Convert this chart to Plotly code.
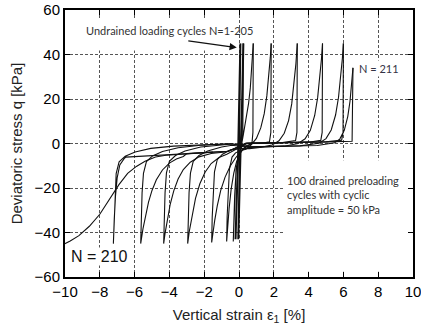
import plotly.graph_objects as go

# ---------------- data ----------------
# strain eps1 in %, deviatoric stress q in kPa
x_tick_values = [-10, -8, -6, -4, -2, 0, 2, 4, 6, 8, 10]
y_tick_values = [-60, -40, -20, 0, 20, 40, 60]

# N = 1-205 (thick bundle around zero strain)
bundle1_strain = [-0.2, -0.14, -0.06, 0.0, 0.04, 0.07, 0.08, 0.05, 0.0, -0.06, -0.13, -0.2]
bundle1_q = [-43, -25, -8, 0, 15, 30, 45, 25, 5, -8, -25, -43]
bundle2_strain = [-0.04, 0.02, 0.09, 0.16, 0.21, 0.25, 0.22, 0.15, 0.06, 0.0, -0.04]
bundle2_q = [-43, -20, -3, 12, 30, 45, 25, 5, -5, -22, -43]

cyc1_strain = [0.25, 0.24, 0.22, 0.15, 0.0, -0.1, -0.18, -0.25, -0.3, -0.33, -0.3, -0.25, -0.17,
               -0.05, 0.1, 0.25, 0.42, 0.55, 0.65, 0.74, 0.79, 0.82]
cyc1_q = [45, 20, 5, -1.6, -4.2, -8.0, -14, -23.7, -35, -44, -32.5, -20.7, -11.5,
          -6.7, -2.5, 4, 11, 18, 25, 34, 41, 45]

cyc2_strain = [0.82, 0.8, 0.75, 0.6, 0.4, 0.2, 0.0, -0.15, -0.3, -0.45, -0.57, -0.66, -0.71,
               -0.68, -0.63, -0.55, -0.4, -0.2, 0.1, 0.4, 0.7, 1.0, 1.25, 1.45, 1.6, 1.73, 1.8, 1.85]
cyc2_q = [45, 5, 0.5, -0.5, -1.1, -2.8, -5.4, -8.5, -13.3, -20.5, -29.3, -38.8, -44,
          -32.6, -20.8, -11.5, -6.1, -4.2, -3.1, -2.6, -0.6, 2.3, 7.0, 13.4, 21.4, 31.6, 38.8, 45]

cyc3_strain = [1.85, 1.83, 1.75, 1.4, 0.8, 0.4, 0.1, -0.2, -0.5, -0.8, -1.05, -1.25, -1.4, -1.5, -1.57,
               -1.54, -1.49, -1.41, -1.25, -0.95, -0.5, 0.0, 0.6, 1.2, 1.9, 2.3, 2.6, 2.85, 3.03,
               3.17, 3.27, 3.35]
cyc3_q = [45, 5, 0.8, 0.2, 0.1, -1.6, -3.7, -6.5, -10.1, -15.1, -21.1, -28.0, -34.8, -40.5, -44.5,
          -33.2, -21.6, -12.7, -7.3, -4.8, -2.9, -2.3, -2.3, -1.8, -0.7, 1.2, 4.6, 10.3, 17.8,
          26.8, 35.8, 45]

cyc4_strain = [3.35, 3.33, 3.25, 2.5, 1.5, 0.5, 0.2, -0.3, -0.7, -1.15, -1.6, -1.95, -2.25, -2.5,
               -2.7, -2.85, -2.95, -2.92, -2.87, -2.79, -2.63, -2.3, -1.8, -1.0, -0.4, 0.6, 1.5,
               2.6, 3.4, 3.8, 4.1, 4.35, 4.52, 4.65, 4.74, 4.8]
cyc4_q = [45, 5, 1.3, 0.38, 0.22, 0.08, -1.0, -3.1, -4.8, -6.3, -9.0, -12.9, -18.1, -24.7,
          -32.1, -39.2, -45, -33.7, -22.1, -13.3, -8.0, -5.4, -3.4, -1.6, -0.8, -1.8, -1.5,
          -1.2, 0.0, 2.1, 5.9, 12.6, 20.6, 29.7, 38.1, 45]

cyc5_strain = [4.8, 4.78, 4.7, 4.0, 3.0, 2.0, 1.0, 0.4, -0.2, -0.8, -1.6, -2.3, -2.8, -3.2, -3.5,
               -3.75, -3.95, -4.12, -4.25, -4.33, -4.3, -4.25, -4.17, -4.0, -3.65, -3.1, -2.2,
               -1.0, -0.4, 0.6, 2.0, 3.5, 4.6, 5.0, 5.3, 5.55, 5.72, 5.85, 5.94, 6.0]
cyc5_q = [45, 5, 1.4, 0.6, 0.45, 0.3, 0.15, 0.06, -2.1, -3.8, -4.5, -6.0, -8.4, -11.7, -16.0,
          -21.3, -27.2, -34, -40.4, -45, -33.7, -22.2, -13.2, -8.0, -5.4, -3.4, -1.6,
          -0.55, -0.2, -1.5, -1.3, -1.08, 0.1, 2.2, 6.1, 12.8, 20.8, 29.8, 38.2, 45]

cyc6_strain = [6.0, 5.98, 5.9, 5.0, 4.0, 3.0, 2.0, 1.0, 0.4, -0.6, -1.5, -2.5, -3.0, -3.2, -3.6,
               -4.0, -4.4, -4.75, -5.0, -5.2, -5.38, -5.52, -5.65, -5.62, -5.57, -5.49, -5.32,
               -4.97, -4.4, -3.5, -2.2, -0.4, 0.6, 2.5, 4.5, 5.5, 5.8, 6.05, 6.25, 6.38, 6.47,
               6.52, 6.55]
cyc6_q = [45, 5, 1.5, 0.75, 0.6, 0.45, 0.3, 0.15, 0.06, -3.47, -3.88, -4.33, -4.55, -5.8, -7.0,
          -8.8, -11.9, -16.3, -21.1, -26.3, -32.4, -38.4, -45, -33.7, -22.2, -13.4, -8.1,
          -5.6, -3.6, -1.9, -0.8, -0.1, -1.51, -1.23, -0.93, 0.3, 2.1, 5.9, 12.1, 19.0, 26.0,
          30.8, 34]

cyc7_strain = [6.55, 6.54, 6.5, 5.0, 3.0, 1.0, 0.4, -0.6, -2.0, -3.5, -5.0, -6.0, -6.5, -6.6,
               -6.85, -7.0, -7.1, -7.17, -7.22, -7.19, -7.14, -7.06, -6.89, -6.54, -5.97, -5.07,
               -3.77, -2.0, -0.5]
cyc7_q = [34, 5, 1.0, 0.75, 0.45, 0.15, 0.06, -3.47, -4.1, -4.78, -5.45, -5.9, -6.13, -6.8,
          -9.6, -15.3, -23.8, -34.2, -45, -33.8, -22.3, -13.5, -8.2, -5.7, -3.8, -2.2,
          -1.2, -0.5, -0.13]

# N = 210 (large extension strain)
n210_strain = [-1.5, -2.5, -3.5, -4.2, -4.8, -5.4, -5.9, -6.4, -6.9, -7.4, -8.0, -8.6, -9.2, -9.7, -10.3]
n210_q = [-3.88, -4.33, -4.78, -5.3, -6.1, -8.0, -10.3, -13.4, -18.5, -24.5, -31.8, -37.2, -41.4, -43.8, -46.3]

# ---------------- figure ----------------
fig = go.Figure()

curves = [
    (bundle1_strain, bundle1_q, 2.0),
    (bundle2_strain, bundle2_q, 2.0),
    (cyc1_strain, cyc1_q, 1.1),
    (cyc2_strain, cyc2_q, 1.1),
    (cyc3_strain, cyc3_q, 1.1),
    (cyc4_strain, cyc4_q, 1.1),
    (cyc5_strain, cyc5_q, 1.1),
    (cyc6_strain, cyc6_q, 1.1),
    (cyc7_strain, cyc7_q, 1.1),
    (n210_strain, n210_q, 1.1),
]
for xs, ys, w in curves:
    fig.add_trace(go.Scatter(x=xs, y=ys, mode="lines",
                             line=dict(color="#111111", width=w),
                             showlegend=False, hoverinfo="skip"))

# white boxes behind the text blocks (hide the grid there)
fig.add_shape(type="rect", x0=2.55, x1=10, y0=-57.6, y1=-7.5, xref="x", yref="y",
              fillcolor="white", line=dict(width=0), layer="between")
fig.add_shape(type="rect", x0=-8.45, x1=-0.2, y0=41.8, y1=55.5, xref="x", yref="y",
              fillcolor="white", line=dict(width=0), layer="between")

ann_font = dict(family="Lato, Open Sans, sans-serif", size=11, color="#333333")
fig.add_annotation(x=-3.97, y=51, text="Undrained loading cycles N=1-205", showarrow=False,
                   font=ann_font, xanchor="center", yanchor="middle")
# arrow pointing at the N=1-205 bundle
fig.add_annotation(x=-0.13, y=43.1, ax=-3.0, ay=46.2, axref="x", ayref="y", text="",
                   showarrow=True, arrowhead=2, arrowsize=1.1, arrowwidth=1.3, arrowcolor="#111111")
fig.add_annotation(x=6.76, y=33.8, text="N = 211", showarrow=False, font=dict(
    family="Lato, Open Sans, sans-serif", size=11, color="#333344"),
    xanchor="left", yanchor="middle", bgcolor="white")
fig.add_annotation(x=2.62, y=-12.8, text="100 drained preloading<br>cycles with cyclic<br>amplitude = 50 kPa",
                   showarrow=False, font=ann_font, xanchor="left", yanchor="top", align="left")
fig.add_annotation(x=-9.72, y=-50.9, text="N = 210", showarrow=False,
                   font=dict(family="Liberation Sans, Arial, sans-serif", size=16, color="#111111"),
                   xanchor="left", yanchor="middle", bgcolor="white", borderpad=0)

axis_common = dict(
    showline=True, linecolor="black", linewidth=2, mirror="allticks",
    ticks="inside", ticklen=5, tickwidth=1, tickcolor="black",
    showgrid=True, gridcolor="#555555", gridwidth=0.8, griddash="3px,2px",
    zeroline=False, automargin=False, ticklabeloverflow="allow",
    tickfont=dict(family="Liberation Sans, Arial, sans-serif", size=15, color="black"),
)

fig.update_xaxes(range=[-10, 10], tickvals=x_tick_values,
                 title=dict(text="Vertical strain ε<sub>1</sub> [%]", standoff=10,
                            font=dict(family="Liberation Sans, Arial, sans-serif", size=15, color="#222222")),
                 **axis_common)
fig.update_yaxes(range=[-60, 60], tickvals=y_tick_values,
                 title=dict(text="Deviatoric stress q [kPa]", standoff=8,
                            font=dict(family="Liberation Sans, Arial, sans-serif", size=15, color="#222222")),
                 **axis_common)

fig.update_layout(width=421, height=328, margin=dict(l=65, r=8, t=10, b=51),
                  paper_bgcolor="white", plot_bgcolor="white")

fig.write_html("out.html")
